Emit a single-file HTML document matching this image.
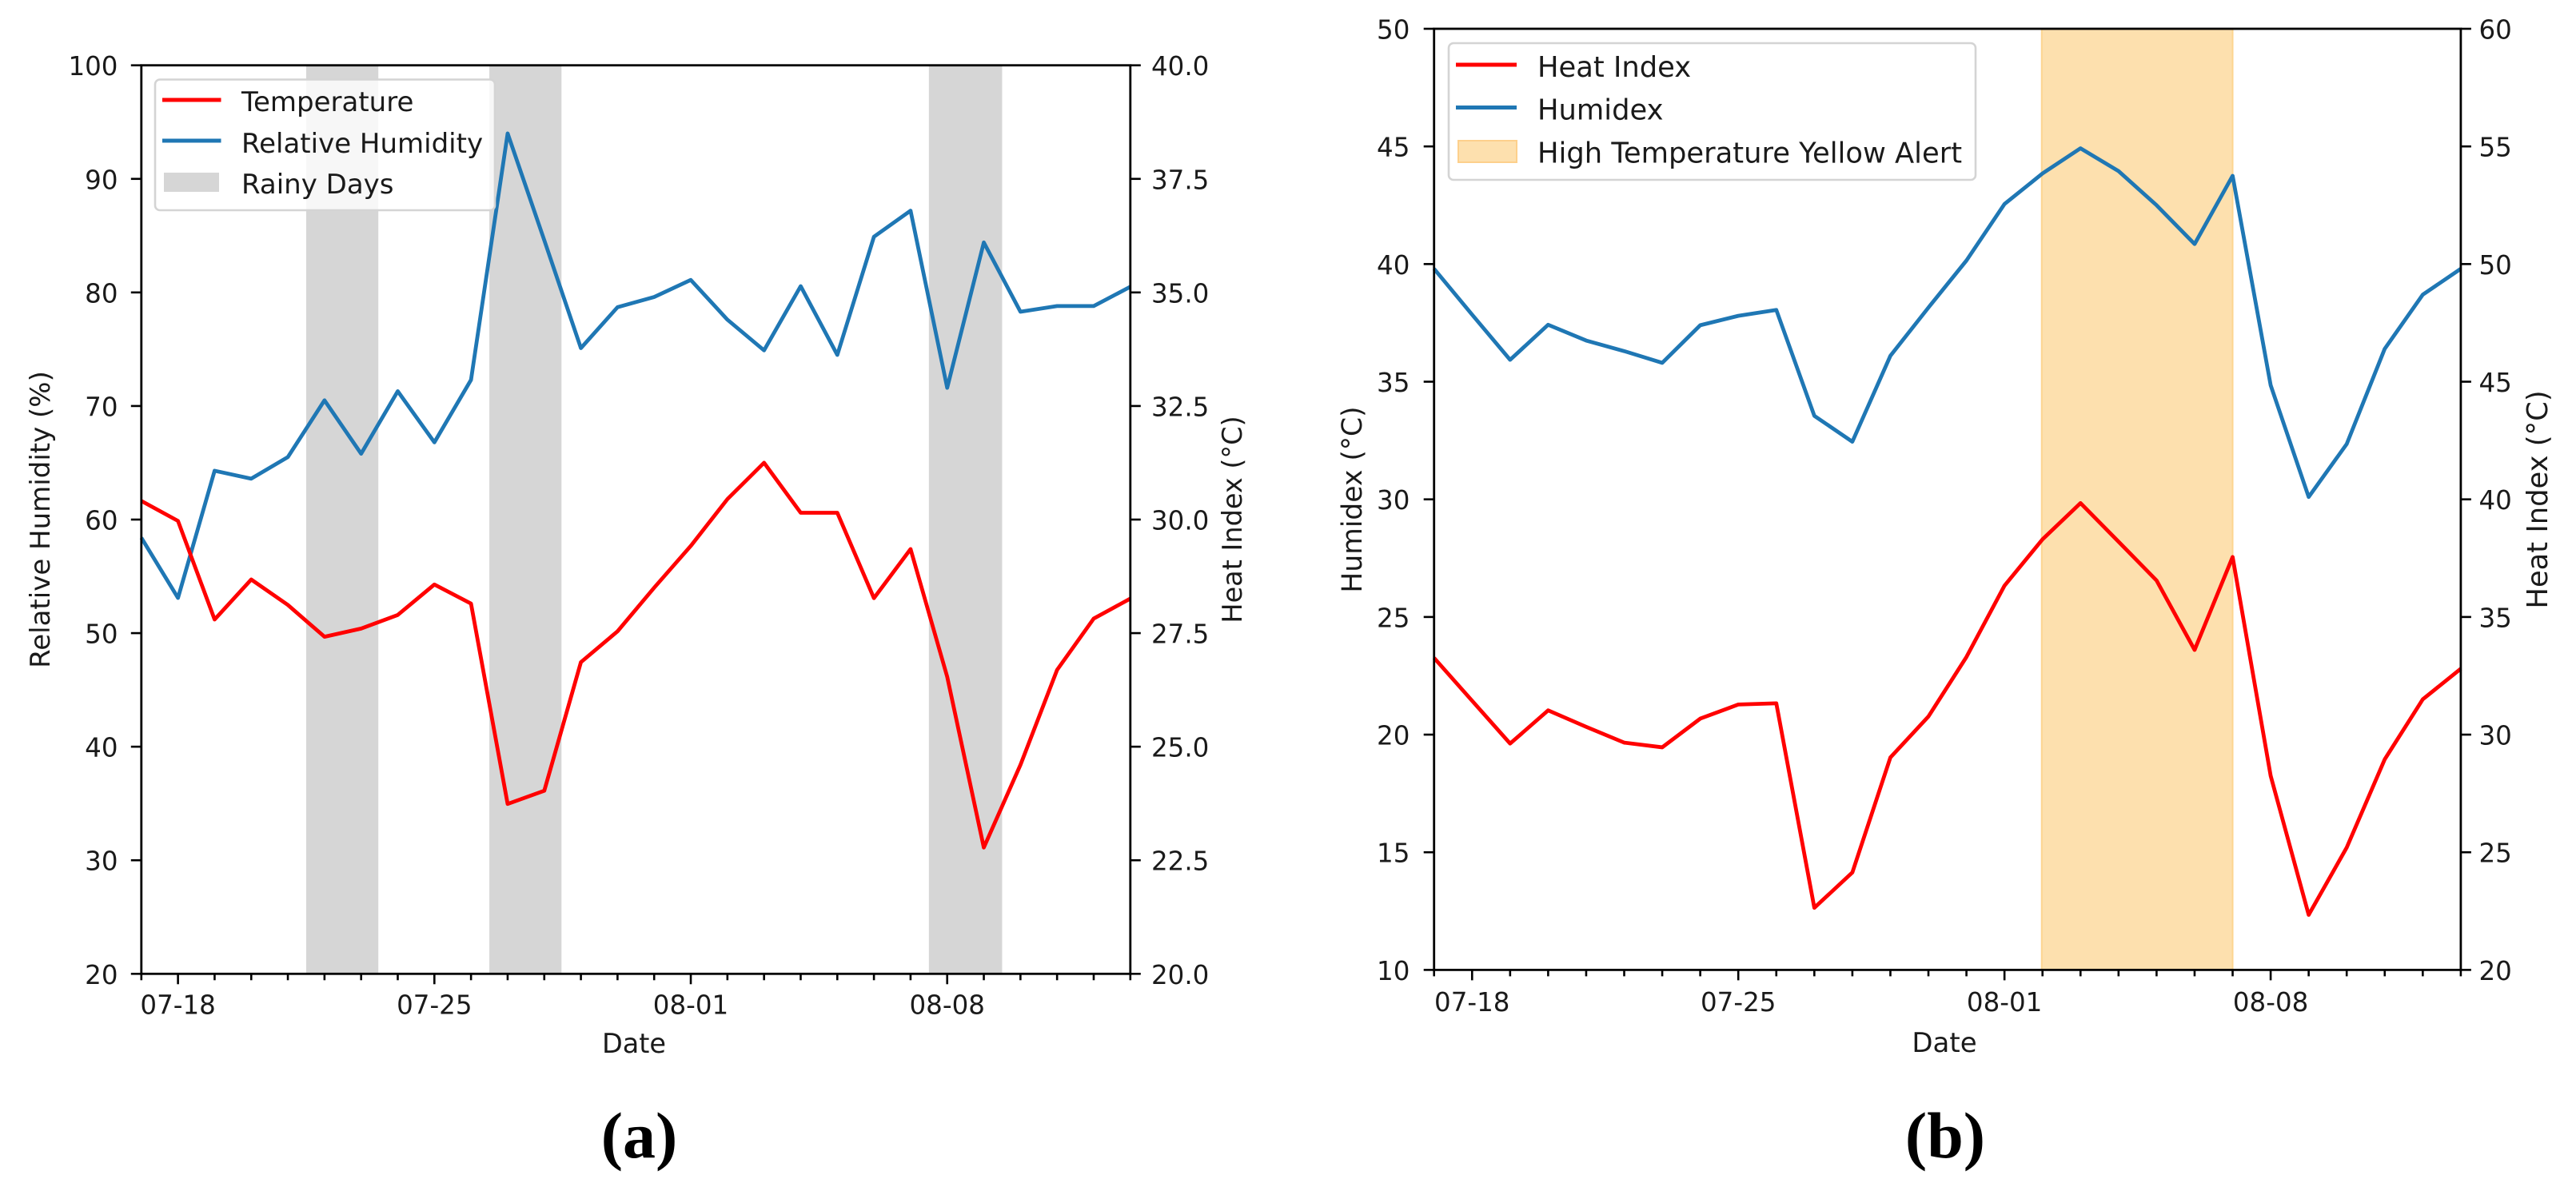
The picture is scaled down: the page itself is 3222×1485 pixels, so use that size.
<!DOCTYPE html>
<html lang="en">
<head>
<meta charset="utf-8">
<title>Temperature, humidity and heat index charts</title>
<style>
html,body{margin:0;padding:0;background:#fff;}
svg{display:block;}
text{font-family:"DejaVu Sans",sans-serif;font-size:32.5px;fill:#1a1a1a;}
.cap{font-family:"Liberation Serif",serif;font-weight:bold;font-size:82px;fill:#000;text-anchor:middle;}
.lega{font-size:34px;}
.legb{font-size:35.3px;}
</style>
</head>
<body>
<svg id="figure" xmlns="http://www.w3.org/2000/svg" width="3222" height="1485" viewBox="0 0 3222 1485">
  <rect x="0" y="0" width="3222" height="1485" fill="#ffffff"/>

  <g id="panel-a">
    <g id="a-spans"></g>
    <g id="a-lines"></g>
    <g id="a-axes"></g>
    <text x="793" y="1317" text-anchor="middle" style="font-size:33.5px">Date</text>
    <text transform="translate(62,650) rotate(-90)" text-anchor="middle" style="font-size:34px">Relative Humidity (%)</text>
    <text transform="translate(1553,650) rotate(-90)" text-anchor="middle" style="font-size:33.5px">Heat Index (°C)</text>
    <g>
      <rect x="194" y="99.5" width="425" height="163.5" rx="6" fill="#ffffff" fill-opacity="0.8" stroke="#d4d4d4" stroke-width="2.6"/>
      <line x1="203" y1="125" x2="276.5" y2="125" stroke="#ff0000" stroke-width="5"/>
      <text class="lega" x="302" y="139">Temperature</text>
      <line x1="203" y1="176" x2="276.5" y2="176" stroke="#1f77b4" stroke-width="5"/>
      <text class="lega" x="302" y="191">Relative Humidity</text>
      <rect x="205" y="216" width="69" height="24" fill="#d6d6d6"/>
      <text class="lega" x="302" y="242">Rainy Days</text>
    </g>
    <text class="cap" x="799.5" y="1448">(a)</text>
  </g>

  <g id="panel-b">
    <g id="b-spans"></g>
    <g id="b-lines"></g>
    <g id="b-axes"></g>
    <text x="2432" y="1316" text-anchor="middle" style="font-size:34px">Date</text>
    <text transform="translate(1703,625) rotate(-90)" text-anchor="middle" style="font-size:34.5px">Humidex (°C)</text>
    <text transform="translate(3186,625) rotate(-90)" text-anchor="middle" style="font-size:35.3px">Heat Index (°C)</text>
    <g>
      <rect x="1812" y="54" width="659" height="171" rx="6" fill="#ffffff" fill-opacity="0.8" stroke="#d4d4d4" stroke-width="2.6"/>
      <line x1="1821" y1="81" x2="1897" y2="81" stroke="#ff0000" stroke-width="5"/>
      <text class="legb" x="1923" y="96">Heat Index</text>
      <line x1="1821" y1="134.5" x2="1897" y2="134.5" stroke="#1f77b4" stroke-width="5"/>
      <text class="legb" x="1923" y="149.5">Humidex</text>
      <rect x="1824" y="176" width="73" height="27" fill="#fde0ae" stroke="#fdd08c" stroke-width="2"/>
      <text class="legb" x="1923" y="203.5">High Temperature Yellow Alert</text>
    </g>
    <text class="cap" x="2433" y="1448">(b)</text>
  </g>
</svg>

<script>
// ---- Shared categories ----
const dates = ['07-17','07-18','07-19','07-20','07-21','07-22','07-23','07-24','07-25','07-26','07-27','07-28','07-29','07-30','07-31','08-01','08-02','08-03','08-04','08-05','08-06','08-07','08-08','08-09','08-10','08-11','08-12','08-13'];
const xTickLabels = ['07-18','07-25','08-01','08-08'];

// ---- Panel (a) data ----
const relativeHumidity = [58.4,53.1,64.3,63.6,65.5,70.5,65.8,71.3,66.8,72.3,94,84.6,75.1,78.7,79.6,81.1,77.6,74.9,80.55,74.5,84.9,87.2,71.6,84.4,78.3,78.8,78.8,80.5];
const temperature = [30.41,29.97,27.8,28.68,28.12,27.42,27.6,27.9,28.57,28.15,23.74,24.03,26.86,27.54,28.5,29.42,30.45,31.25,30.15,30.15,28.27,29.35,26.54,22.78,24.6,26.69,27.82,28.26];
const rainStarts = [4.5,9.5,21.5];
const rainEnds = [6.47,11.47,23.5];
const aLeftTicks = [20,30,40,50,60,70,80,90,100];
const aRightTicks = [20,22.5,25,27.5,30,32.5,35,37.5,40];
const aRightLabels = ['20.0','22.5','25.0','27.5','30.0','32.5','35.0','37.5','40.0'];

// ---- Panel (b) data ----
const humidex = [39.8,37.85,35.93,37.42,36.75,36.3,35.8,37.4,37.8,38.05,33.55,32.45,36.1,38.15,40.15,42.55,43.85,44.92,43.95,42.5,40.85,43.75,34.85,30.1,32.35,36.4,38.7,39.8];
const heatIndex = [33.26,31.44,29.62,31.03,30.33,29.66,29.46,30.68,31.28,31.33,22.64,24.14,29.03,30.77,33.3,36.33,38.3,39.84,38.2,36.55,33.6,37.55,28.25,22.34,25.2,28.95,31.5,32.8];
const alertStarts = [15.98];
const alertEnds = [21];
const bLeftTicks = [10,15,20,25,30,35,40,45,50];
const bRightTicks = [20,25,30,35,40,45,50,55,60];

const SVGNS = 'http://www.w3.org/2000/svg';
function make(tag, attrs, parent) {
  const el = document.createElementNS(SVGNS, tag);
  for (const k in attrs) el.setAttribute(k, attrs[k]);
  parent.appendChild(el);
  return el;
}
function linear(d0, d1, r0, r1) {
  return function (v) { return r0 + (v - d0) * (r1 - r0) / (d1 - d0); };
}

function drawSpans(parent, starts, ends, x, top, bottom, fill, stroke, name) {
  starts.forEach(function (s, i) {
    const r = make('rect', {x: x(s), y: top, width: x(ends[i]) - x(s), height: bottom - top, fill: fill, stroke: stroke, 'stroke-width': stroke === 'none' ? 0 : 2}, parent);
    
    
  });
}

function drawLine(parent, values, x, y, color, name) {
  const pts = values.map(function (v, i) { return x(i).toFixed(2) + ',' + y(v).toFixed(2); }).join(' ');
  const p = make('polyline', {points: pts, fill: 'none', stroke: color, 'stroke-width': 4.8, 'stroke-linejoin': 'round'}, parent);
  
  
}

function drawAxes(parent, box, x, yLeft, yRight, leftTicks, rightTicks, rightLabels, leftLabelX, rightLabelX, tickBaseline) {
  const sw = 2.8;
  const frame = make('rect', {x: box.left, y: box.top, width: box.right - box.left, height: box.bottom - box.top, fill: 'none', stroke: '#000', 'stroke-width': sw}, parent);
  
  

  dates.forEach(function (d, i) {
    const major = xTickLabels.indexOf(d) >= 0;
    const t = make('line', {x1: x(i), x2: x(i), y1: box.bottom, y2: box.bottom + (major ? 13 : 8), stroke: '#000', 'stroke-width': 2.6}, parent);
    
    
    if (major) {
      const lab = make('text', {x: x(i), y: tickBaseline, 'text-anchor': 'middle'}, parent);
      lab.textContent = d;
      
      
    }
  });

  leftTicks.forEach(function (v) {
    const t = make('line', {x1: box.left - 13, x2: box.left, y1: yLeft(v), y2: yLeft(v), stroke: '#000', 'stroke-width': 2.6}, parent);
    
    
    const lab = make('text', {x: leftLabelX, y: yLeft(v) + 12.5, 'text-anchor': 'end'}, parent);
    lab.textContent = String(v);
    
    
  });

  rightTicks.forEach(function (v, i) {
    const t = make('line', {x1: box.right, x2: box.right + 13, y1: yRight(v), y2: yRight(v), stroke: '#000', 'stroke-width': 2.6}, parent);
    
    
    const lab = make('text', {x: rightLabelX, y: yRight(v) + 12.5, 'text-anchor': 'start'}, parent);
    lab.textContent = rightLabels ? rightLabels[i] : String(v);
    
    
  });
}

// Panel (a)
const boxA = {left: 176.8, right: 1413.8, top: 81.7, bottom: 1218.3};
const xA = linear(0, dates.length - 1, boxA.left, boxA.right);
const yA = linear(20, 100, boxA.bottom, boxA.top);
const yA2 = linear(20, 40, boxA.bottom, boxA.top);
drawSpans(document.getElementById('a-spans'), rainStarts, rainEnds, xA, boxA.top, boxA.bottom, '#d6d6d6', 'none', 'rainy-span');
drawLine(document.getElementById('a-lines'), relativeHumidity, xA, yA, '#1f77b4', 'relative-humidity-line');
drawLine(document.getElementById('a-lines'), temperature, xA, yA2, '#ff0000', 'temperature-line');
drawAxes(document.getElementById('a-axes'), boxA, xA, yA, yA2, aLeftTicks, aRightTicks, aRightLabels, 147.5, 1440, 1268.7);

// Panel (b)
const boxB = {left: 1793.7, right: 3077.9, top: 36, bottom: 1213.4};
const xB = linear(0, dates.length - 1, boxB.left, boxB.right);
const yB = linear(10, 50, boxB.bottom, boxB.top);
const yB2 = linear(20, 60, boxB.bottom, boxB.top);
drawSpans(document.getElementById('b-spans'), alertStarts, alertEnds, xB, boxB.top, boxB.bottom, '#fde0ae', '#fdd590', 'alert-span');
drawLine(document.getElementById('b-lines'), humidex, xB, yB, '#1f77b4', 'humidex-line');
drawLine(document.getElementById('b-lines'), heatIndex, xB, yB2, '#ff0000', 'heat-index-line');
drawAxes(document.getElementById('b-axes'), boxB, xB, yB, yB2, bLeftTicks, bRightTicks, null, 1763.4, 3100.5, 1265);
</script>
</body>
</html>
